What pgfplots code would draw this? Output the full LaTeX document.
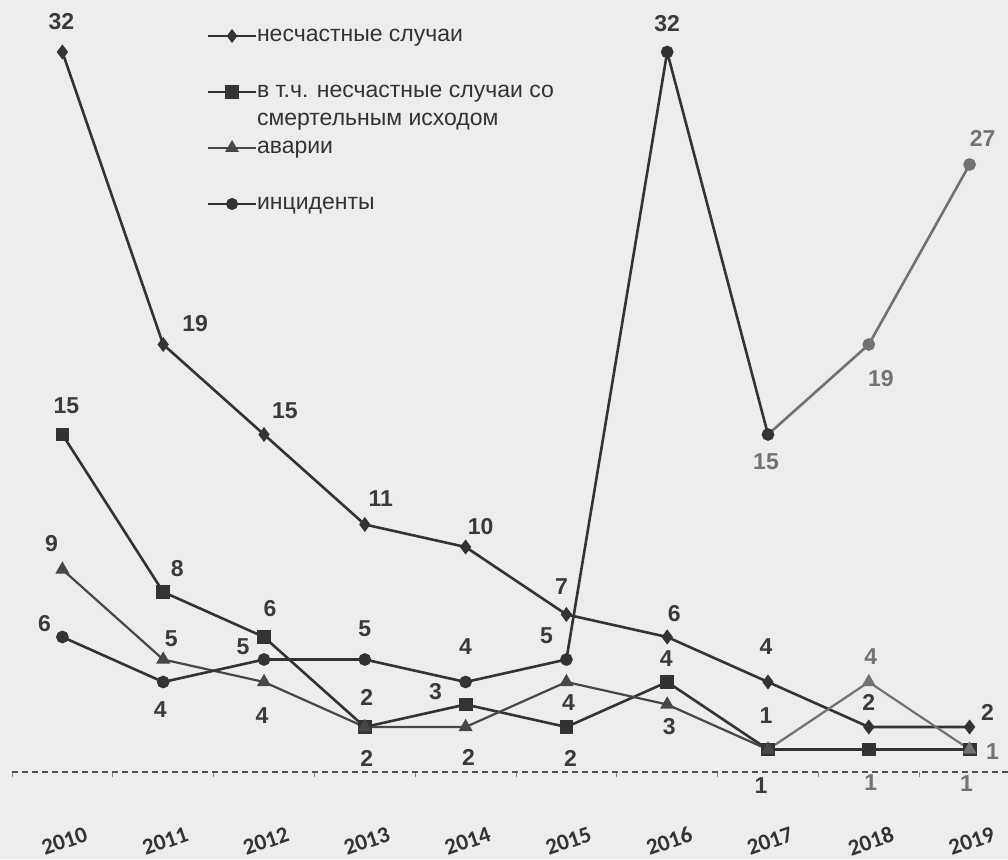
\documentclass[border=0pt]{standalone}
\usepackage{fontspec}
\setmainfont{Liberation Sans}
\newfontfamily\yearfont{Carlito}
\usepackage{pgfplots}
\pgfplotsset{compat=1.18}
\definecolor{paper}{HTML}{EDEDED}
\definecolor{ink}{HTML}{333333}
\definecolor{labink}{HTML}{3A3A3A}
\definecolor{faded}{HTML}{727272}

\pgfplotsset{
  lab/.style={nodes near coords, point meta=explicit symbolic,
    visualization depends on={value \thisrow{dx}\as\dx},
    visualization depends on={value \thisrow{dy}\as\dy},
    visualization depends on={value \thisrow{c}\as\lc},
    every node near coord/.append style={anchor=center, inner sep=0pt,
      font=\bfseries\fontsize{11.5}{12}\selectfont, text=\lc,
      xshift=\dx pt, yshift=\dy pt}},
}

\begin{document}
\begin{tikzpicture}
\fill[paper] (0,0) rectangle (504pt,429.5pt);
\begin{axis}[
  at={(6pt,43.5pt)}, anchor=south west,
  scale only axis, width=497.8pt, height=382.5pt,
  xmin=2009.5, xmax=2019.377, ymin=0, ymax=34,
  axis y line=none, axis x line*=bottom,
  x axis line style={ink!85, densely dashed, line width=0.6pt},
  xtick={2010,2011,2012,2013,2014,2015,2016,2017,2018,2019},
  xticklabels={2010,2011,2012,2013,2014,2015,2016,2017,2018,2019},
  major tick length=0pt,
  minor xtick={2009.5,2010.5,2011.5,2012.5,2013.5,2014.5,2015.5,2016.5,2017.5,2018.5},
  minor tick length=2.5pt, tick align=outside,
  minor tick style={ink!60, line width=0.4pt},
  xticklabel style={font=\yearfont\bfseries\fontsize{11.5}{12}\selectfont,
    text=ink, anchor=center, yshift=-34.5pt, xshift=1pt, rotate=19},
  clip=false,
  legend style={at={(0.1959,0.9765)}, anchor=north west, draw=none, fill=none,
    inner sep=0pt, outer sep=0pt, row sep=3pt,
    font=\fontsize{11.5}{12}\selectfont, text=ink,
    nodes={inner sep=0pt, text height=8.5pt, text depth=2.5pt}},
  legend cell align=left,
  legend image code/.code={\draw[line width=1pt, mark repeat=2,mark phase=2]
    plot coordinates {(0pt,0pt) (12pt,0pt) (24pt,0pt)};},
]

% несчастные случаи
\addplot[ink, line width=1.3pt, mark=diamond*, mark size=2.7pt,
  mark options={fill=ink}, lab] table[x=x, y=y, meta=l] {
x y l dx dy c
2010 32 32 -0.5 15 labink
2011 19 19 16 10.5 labink
2012 15 15 10.5 12 labink
2013 11 11 8 13 labink
2014 10 10 7.5 10 labink
2015 7 7 -2.5 14 labink
2016 6 6 3.5 11.5 labink
2017 4 4 -1 17.5 labink
2018 2 2 0 12.5 labink
2019 2 2 9 7.5 labink
};
\addlegendentry{несчастные случаи}
\addlegendimage{empty legend}
\addlegendentry{\mbox{}}

% в т.ч. со смертельным исходом
\addplot[ink, line width=1.3pt, mark=square*, mark size=2.8pt,
  mark options={fill=ink}, lab] table[x=x, y=y, meta=l] {
x y l dx dy c
2010 15 15 2 14.5 labink
2011 8 8 7 11.5 labink
2012 6 6 3 14 labink
2013 2 2 1 -15.5 labink
2014 3 3 -15 6.5 labink
2015 2 2 2 -15.5 labink
2016 4 4 -0.5 11.5 labink
2017 1 1 -3.5 -18 labink
2018 1 1 1 -16.5 faded
2019 1 1 11.5 -1 faded
};
\addlegendentry{в т.ч. несчастные случаи со}
\addlegendimage{empty legend}
\addlegendentry{смертельным исходом}

% аварии
\addplot[ink!90, line width=1.1pt, mark=triangle*, mark size=3pt,
  mark options={fill=ink!90}, lab] table[x=x, y=y, meta=l] {
x y l dx dy c
2010 9 9 -5.5 13 labink
2011 5 5 4 10.5 labink
2012 4 4 -1 -17 labink
2013 2 2 1 15 labink
2014 2 2 1.5 -15 labink
2015 4 4 1 -10.5 labink
2016 3 3 1 -11 labink
2017 1 1 -1 17 labink
};
\addlegendentry{аварии}
\addplot[faded, line width=1.1pt, mark=triangle*, mark size=3pt,
  mark options={fill=faded}, mark indices={2,3}, lab, forget plot]
  table[x=x, y=y, meta=l] {
x y l dx dy c
2017 1 {} 0 0 faded
2018 4 4 1 12.5 faded
2019 1 1 -1.5 -17 faded
};
\addlegendimage{empty legend}
\addlegendentry{\mbox{}}

% инциденты
\addplot[ink, line width=1.3pt, mark=*, mark size=2.5pt,
  mark options={fill=ink}, lab] table[x=x, y=y, meta=l] {
x y l dx dy c
2010 6 6 -9 6.5 labink
2011 4 4 -1.5 -14 labink
2012 5 5 -10.5 6.5 labink
2013 5 5 0 15.5 labink
2014 4 4 0 17.5 labink
2015 5 5 -10 12 labink
2016 32 32 0 14 labink
2017 15 15 -1 -13.5 faded
};
\addlegendentry{инциденты}
\addplot[faded, line width=1.3pt, mark=*, mark size=2.5pt,
  mark options={fill=faded}, mark indices={2,3}, lab, forget plot]
  table[x=x, y=y, meta=l] {
x y l dx dy c
2017 15 {} 0 0 faded
2018 19 19 6 -17 faded
2019 27 27 6.5 13 faded
};
\end{axis}
\pgfresetboundingbox
\path[use as bounding box] (0,0) rectangle (504pt,429.5pt);
\end{tikzpicture}
\end{document}
